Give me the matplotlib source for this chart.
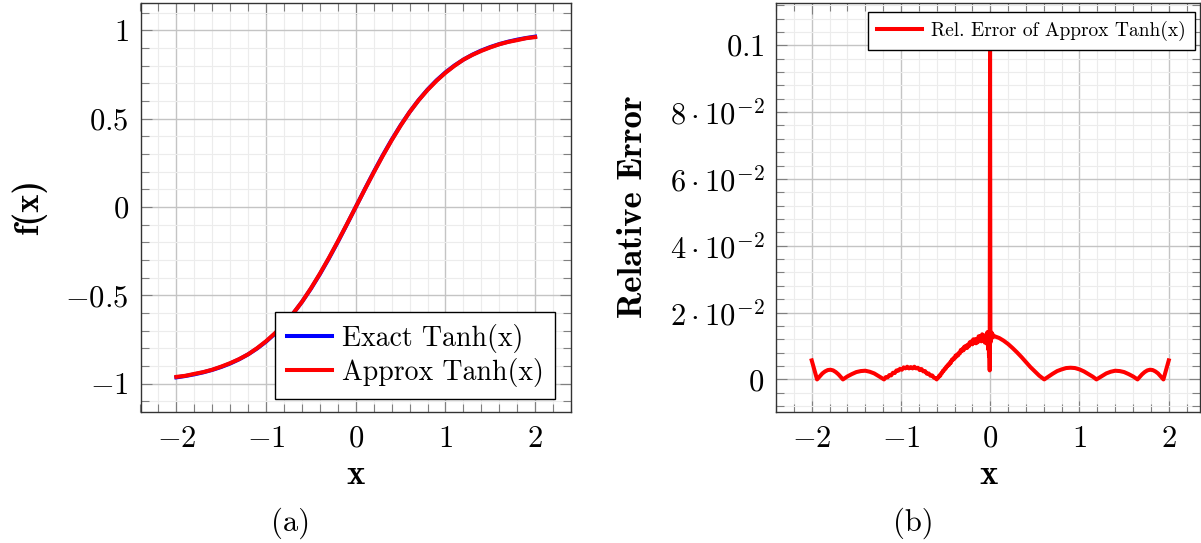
import matplotlib
matplotlib.use("Agg")
import matplotlib.pyplot as plt
from matplotlib.ticker import MultipleLocator, FixedLocator, FixedFormatter, FuncFormatter

plt.rcParams["mathtext.fontset"] = "cm"
plt.rcParams["font.family"] = "cmr10"
plt.rcParams["axes.unicode_minus"] = False
plt.rcParams["axes.formatter.use_mathtext"] = True

# --- (a) tanh and its approximation ---
x_tanh = [-2.0, -1.9, -1.8, -1.7, -1.6, -1.5, -1.4, -1.3, -1.2, -1.1, -1.0,
          -0.9, -0.8, -0.7, -0.6, -0.5, -0.4, -0.3, -0.2, -0.1, 0.0,
          0.1, 0.2, 0.3, 0.4, 0.5, 0.6, 0.7, 0.8, 0.9, 1.0,
          1.1, 1.2, 1.3, 1.4, 1.5, 1.6, 1.7, 1.8, 1.9, 2.0]
exact_y = [-0.9640, -0.9562, -0.9468, -0.9354, -0.9217, -0.9051, -0.8854, -0.8617, -0.8337, -0.8005, -0.7616,
           -0.7163, -0.6640, -0.6044, -0.5370, -0.4621, -0.3799, -0.2913, -0.1974, -0.0997, 0.0,
           0.0997, 0.1974, 0.2913, 0.3799, 0.4621, 0.5370, 0.6044, 0.6640, 0.7163, 0.7616,
           0.8005, 0.8337, 0.8617, 0.8854, 0.9051, 0.9217, 0.9354, 0.9468, 0.9562, 0.9640]
approx_y = [-0.9610, -0.9550, -0.9441, -0.9340, -0.9205, -0.9030, -0.8833, -0.8605, -0.8335, -0.7987, -0.7592,
            -0.7137, -0.6619, -0.6032, -0.5369, -0.4603, -0.3773, -0.2885, -0.1951, -0.0985, 0.0,
            0.0985, 0.1951, 0.2885, 0.3773, 0.4603, 0.5369, 0.6032, 0.6619, 0.7137, 0.7592,
            0.7987, 0.8335, 0.8605, 0.8833, 0.9030, 0.9205, 0.9340, 0.9441, 0.9550, 0.9610]

# --- (b) relative error of the approximation ---
err_x = [-2.00, -1.98, -1.96, -1.94, -1.91, -1.88, -1.85, -1.82, -1.79, -1.76, -1.73, -1.70, -1.67, -1.65,
         -1.60, -1.55, -1.50, -1.45, -1.40, -1.35, -1.30, -1.25, -1.22, -1.19,
         -1.17, -1.15, -1.13, -1.11, -1.09, -1.07, -1.05, -1.03, -1.01, -0.99, -0.97, -0.95, -0.93, -0.91,
         -0.89, -0.87, -0.85, -0.83, -0.81, -0.79, -0.77, -0.75, -0.73, -0.71, -0.69, -0.67, -0.65, -0.63,
         -0.61, -0.60,
         -0.59, -0.58, -0.57, -0.56, -0.55, -0.54, -0.53, -0.52, -0.51, -0.50, -0.49, -0.48, -0.47, -0.46,
         -0.45, -0.44, -0.43, -0.42, -0.41, -0.40, -0.39, -0.38, -0.37, -0.36, -0.35, -0.34, -0.33, -0.32,
         -0.31, -0.30, -0.29, -0.28, -0.27, -0.26, -0.25, -0.24, -0.23, -0.22, -0.21, -0.20, -0.19, -0.18,
         -0.17, -0.16, -0.15, -0.14, -0.13, -0.12, -0.11, -0.10, -0.09, -0.08, -0.07, -0.06, -0.05, -0.04,
         -0.035, -0.030, -0.026, -0.022, -0.018, -0.014, -0.010, -0.006, -0.002,
         0.002, 0.006, 0.010, 0.014, 0.018, 0.024, 0.03, 0.04, 0.05, 0.10, 0.15, 0.20, 0.25, 0.30, 0.35,
         0.40, 0.45, 0.50, 0.55, 0.605, 0.65, 0.70, 0.75, 0.80, 0.85, 0.90, 0.95, 1.00, 1.05, 1.10, 1.15,
         1.19, 1.22, 1.25, 1.30, 1.35, 1.40, 1.45, 1.50, 1.55, 1.60, 1.65, 1.67, 1.70, 1.73, 1.76,
         1.79, 1.82, 1.85, 1.88, 1.91, 1.94, 1.96, 1.98, 2.00]
err_y = [0.0057, 0.0038, 0.0019, 0.0000, 0.0009, 0.0018, 0.0024, 0.0028, 0.0029, 0.0027, 0.0022, 0.0015, 0.0006, 0.0000,
         0.0009, 0.0016, 0.0022, 0.0025, 0.0026, 0.0023, 0.0018, 0.0010, 0.0005, 0.0000,
         0.0007, 0.0006, 0.0013, 0.0012, 0.0020, 0.0019, 0.0027, 0.0026, 0.0032, 0.0029, 0.0036, 0.0033, 0.0038, 0.0033,
         0.0037, 0.0033, 0.0038, 0.0033, 0.0035, 0.0028, 0.0031, 0.0024, 0.0025, 0.0017, 0.0018, 0.0011, 0.0012, 0.0005,
         0.0003, 0.0000,
         0.0005, 0.0006, 0.0012, 0.0011, 0.0018, 0.0019, 0.0026, 0.0026, 0.0032, 0.0032, 0.0039, 0.0039, 0.0045, 0.0044,
         0.0051, 0.0050, 0.0059, 0.0058, 0.0064, 0.0062, 0.0071, 0.0068, 0.0075, 0.0072, 0.0080, 0.0078, 0.0088, 0.0085,
         0.0092, 0.0087, 0.0098, 0.0093, 0.0101, 0.0094, 0.0104, 0.0099, 0.0111, 0.0105, 0.0114, 0.0105, 0.0120, 0.0110,
         0.0120, 0.0108, 0.0121, 0.0111, 0.0129, 0.0118, 0.0130, 0.0114, 0.0135, 0.0117, 0.0132, 0.0110, 0.0130, 0.0113,
         0.0140, 0.0104, 0.0142, 0.0090, 0.0138, 0.0070, 0.0128, 0.0027, 0.1026,
         0.0138, 0.0112, 0.0141, 0.0122, 0.0139, 0.0127, 0.0134, 0.0128, 0.0129, 0.0124, 0.0116, 0.0106, 0.0094, 0.0081, 0.0067,
         0.0052, 0.0037, 0.0024, 0.0011, 0.0000, 0.0008, 0.0017, 0.0025, 0.0030, 0.0034, 0.0035, 0.0034, 0.0030, 0.0024, 0.0016, 0.0008,
         0.0000, 0.0005, 0.0010, 0.0018, 0.0023, 0.0026, 0.0025, 0.0022, 0.0016, 0.0009, 0.0000, 0.0006, 0.0015, 0.0022, 0.0027,
         0.0029, 0.0028, 0.0024, 0.0018, 0.0009, 0.0000, 0.0019, 0.0038, 0.0057]

err_ticks = [0.0, 0.02, 0.04, 0.06, 0.08, 0.1]
err_tick_labels = [r"$0$", r"$2\cdot10^{-2}$", r"$4\cdot10^{-2}$", r"$6\cdot10^{-2}$",
                   r"$8\cdot10^{-2}$", r"$0.1$"]

W, H = 1201, 543
fig = plt.figure(figsize=(W / 100, H / 100), dpi=100)

ax1 = fig.add_axes([140.5 / W, (H - 411.5) / H, 430.5 / W, 409 / H])
ax2 = fig.add_axes([776.0 / W, (H - 411.5) / H, 424.0 / W, 409 / H])


def style_axes(ax):
    ax.set_axisbelow(True)
    ax.grid(which="major", color="#c4c4c4", linewidth=1.0)
    ax.grid(which="minor", color="#ececec", linewidth=0.8)
    ax.tick_params(which="both", direction="in", top=True, right=True,
                   color="#808080", width=0.8)
    ax.tick_params(which="major", length=8, labelsize=22, pad=8.5)
    ax.tick_params(which="minor", length=5.5)
    ax.tick_params(axis="x", which="major", pad=10)
    for s in ax.spines.values():
        s.set_color("#333333")
        s.set_linewidth(1.0)
    ax.xaxis.set_major_locator(MultipleLocator(1))
    ax.xaxis.set_minor_locator(MultipleLocator(0.2))
    ax.xaxis.set_major_formatter(FuncFormatter(lambda v, p: "$%g$" % v))


label_font = {"family": "cmb10", "size": 25}

# (a)
style_axes(ax1)
ax1.plot(x_tanh, exact_y, color="blue", linewidth=2.9, label="Exact Tanh(x)")
ax1.plot(x_tanh, approx_y, color="red", linewidth=2.9, label="Approx Tanh(x)")
ax1.set_xlim(-2.4, 2.4)
ax1.set_ylim(-1.157, 1.157)
ax1.yaxis.set_major_locator(MultipleLocator(0.5))
ax1.yaxis.set_minor_locator(MultipleLocator(0.1))
ax1.yaxis.set_major_formatter(FuncFormatter(lambda v, p: "$%g$" % v))
ax1.set_xlabel("x", fontdict=label_font)
ax1.set_ylabel("f(x)", fontdict=label_font)
ax1.xaxis.set_label_coords(0.5, -0.157)
ax1.xaxis.label.set_va("center")
ax1.yaxis.set_label_coords(-0.258, 0.5)
ax1.yaxis.label.set_va("center")
leg1 = ax1.legend(loc="lower right", bbox_to_anchor=(0.963, 0.031), borderaxespad=0,
                  prop={"family": "cmr10", "size": 20}, frameon=True, fancybox=False,
                  edgecolor="black", framealpha=1, handlelength=1.62, handletextpad=0.35,
                  borderpad=0.42, labelspacing=0.2)
leg1.get_frame().set_linewidth(1.0)

# (b)
style_axes(ax2)
ax2.plot(err_x, err_y, color="red", linewidth=2.9, label="Rel. Error of Approx Tanh(x)")
ax2.set_xlim(-2.4, 2.35)
ax2.set_ylim(-0.0096, 0.1128)
ax2.yaxis.set_major_locator(FixedLocator(err_ticks))
ax2.yaxis.set_major_formatter(FixedFormatter(err_tick_labels))
ax2.yaxis.set_minor_locator(MultipleLocator(0.004))
ax2.set_xlabel("x", fontdict=label_font)
ax2.set_ylabel("Relative Error", fontdict=label_font)
ax2.xaxis.set_label_coords(0.5, -0.157)
ax2.xaxis.label.set_va("center")
ax2.yaxis.set_label_coords(-0.336, 0.5)
ax2.yaxis.label.set_va("center")
leg2 = ax2.legend(loc="upper right", bbox_to_anchor=(0.988, 0.976), borderaxespad=0,
                  prop={"family": "cmr10", "size": 14}, frameon=True, fancybox=False,
                  edgecolor="black", framealpha=1, handlelength=2.32, handletextpad=0.5,
                  borderpad=0.45)
leg2.get_frame().set_linewidth(1.0)

fig.text(291 / W, (H - 523) / H, "(a)", ha="center", va="center", fontsize=22, family="cmr10")
fig.text(913 / W, (H - 523) / H, "(b)", ha="center", va="center", fontsize=22, family="cmr10")

fig.savefig("out.png", dpi=100)
